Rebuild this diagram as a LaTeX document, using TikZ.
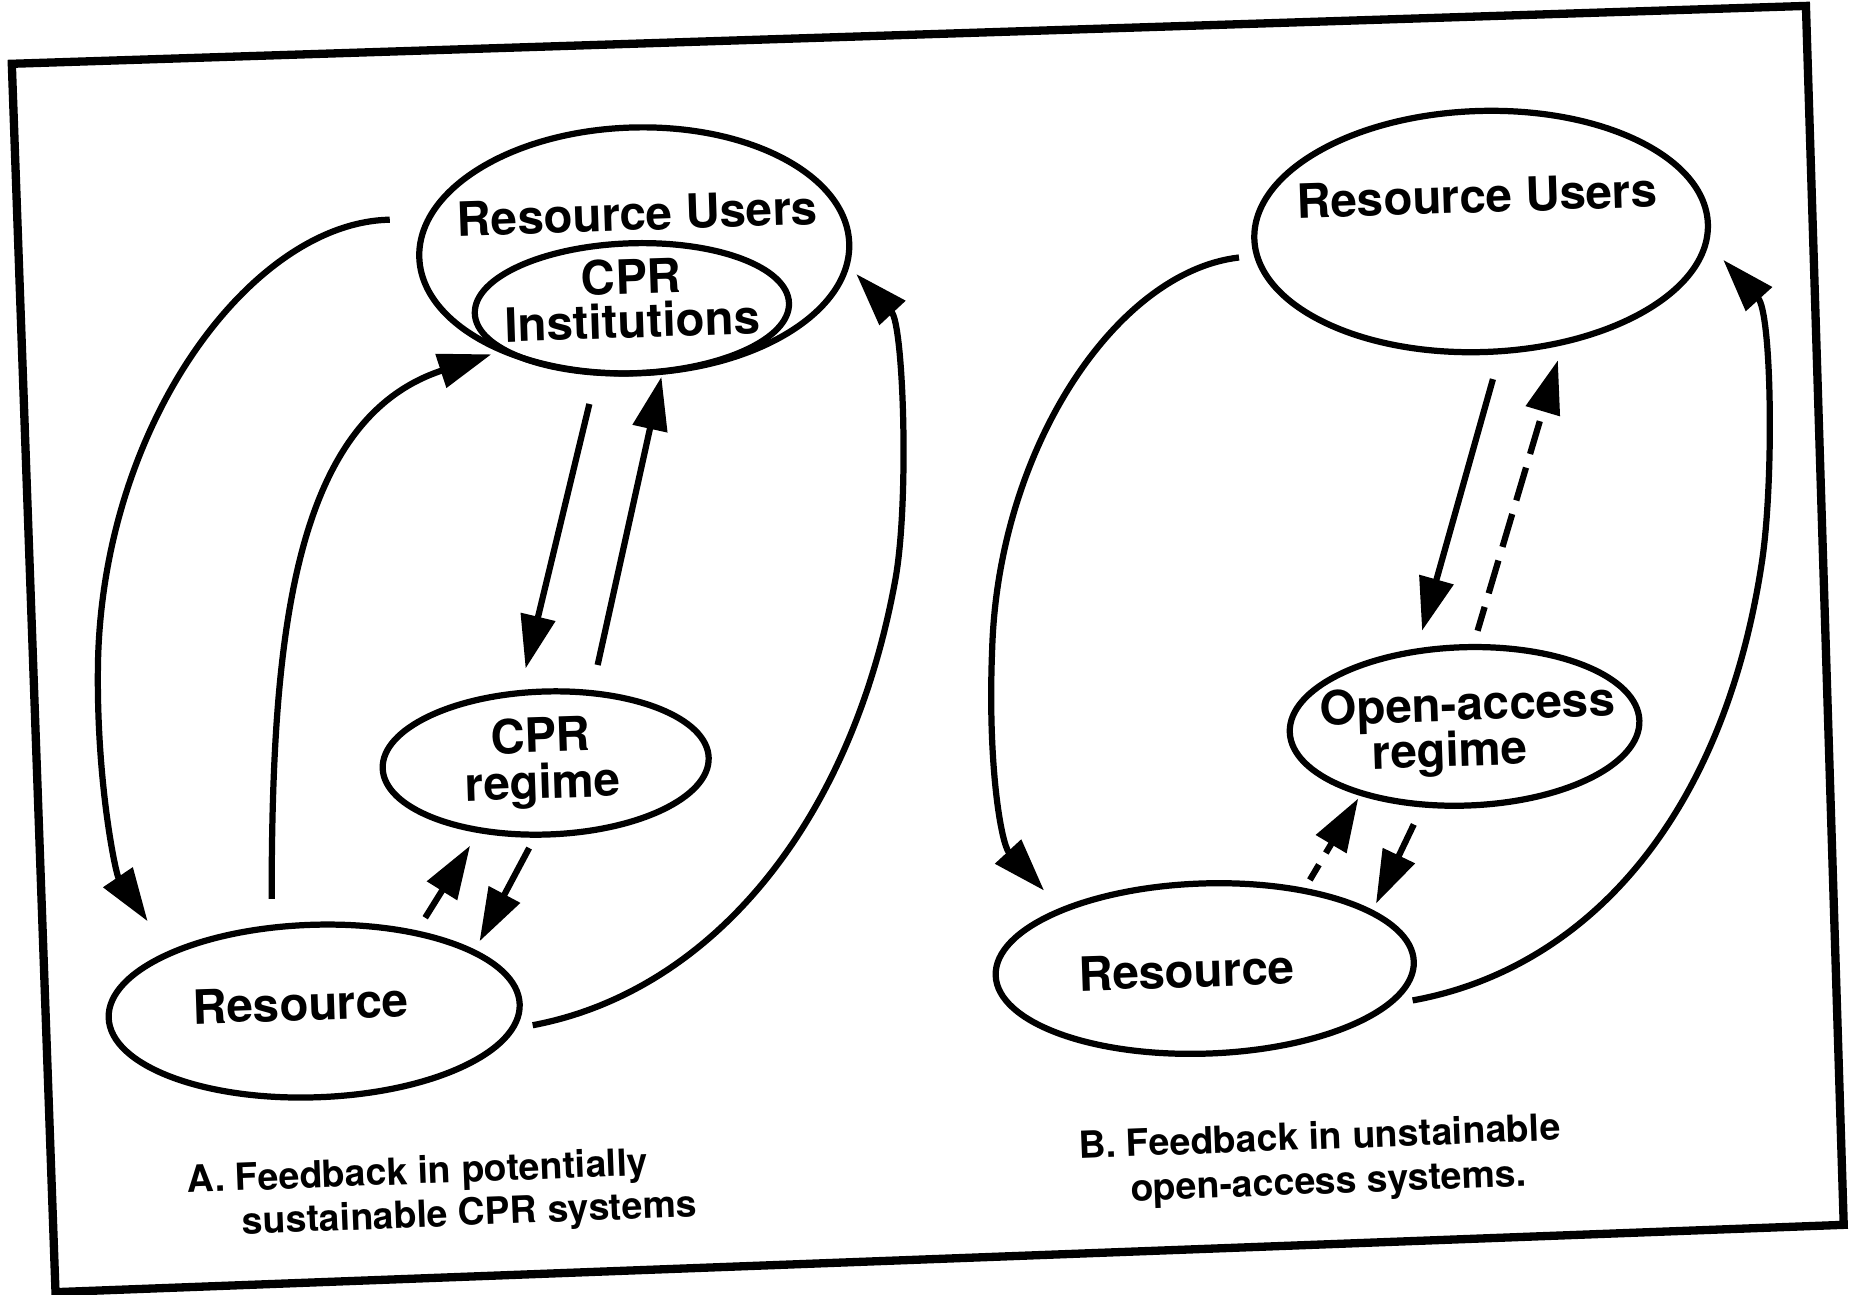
\documentclass[tikz,border=0pt]{standalone}
\usepackage{fontspec}
\setmainfont{TeX Gyre Heros}
\usetikzlibrary{arrows.meta,shapes.geometric}
\begin{document}
\begin{tikzpicture}[x=0.01cm,y=-0.01cm,line width=1.5pt,
  oval/.style={draw,ellipse,rotate=1.9,inner sep=0pt},
  lbl/.style={rotate=1.9,anchor=base,inner sep=0pt,font=\fontsize{11.4}{13}\selectfont\bfseries},
  captxt/.style={rotate=2.2,anchor=base west,inner sep=0pt,font=\fontsize{9}{11}\selectfont\bfseries},
  arr/.style={-{Triangle[length=4.5mm,width=2.9mm]}},
  dsh/.style={dash pattern=on 2.9mm off 1.2mm,dash phase=0.8mm},
  dshshort/.style={dash pattern=on 1.5mm off 1.15mm}
]
\useasboundingbox (0,0) rectangle (1568,1096);
% frame
\draw[line width=2pt] (10,54) -- (1529,5) -- (1561,1037) -- (47,1094) -- cycle;

% ---------- A: left diagram ----------
\node[oval,minimum width=3.64cm,minimum height=2.08cm] (ruL) at (537,212) {};
\node[oval,minimum width=2.66cm,minimum height=1.10cm] (instL) at (535,261) {};
\node[oval,minimum width=2.76cm,minimum height=1.21cm] (regL) at (462,646) {};
\node[oval,minimum width=3.48cm,minimum height=1.46cm] (resL) at (266,856) {};

\node[lbl] (tRUL) at (540,195) {Resource Users};
\node[lbl] (tCPRa) at (535,249) {CPR};
\node[lbl] (tInst) at (536,286) {Institutions};
\node[lbl] (tCPRb) at (458,637) {CPR};
\node[lbl] (tRegL) at (460,676) {regime};
\node[lbl] (tResL) at (255,864) {Resource};

\coordinate (a1s) at (330,186); \coordinate (a1e) at (125,780);
\coordinate (a2s) at (230,761); \coordinate (a2e) at (416,300);
\coordinate (a3s) at (451,868); \coordinate (a3e) at (725,232);
\coordinate (a4s) at (499,342); \coordinate (a4e) at (445,566);
\coordinate (a5s) at (506,563); \coordinate (a5e) at (560,319);
\coordinate (a6s) at (360,777); \coordinate (a6e) at (398,716);
\coordinate (a7s) at (448,718); \coordinate (a7e) at (406,797);

\draw[arr] (a1s) .. controls (215,188) and (88,355) .. (83,559)
                 .. controls (81,660) and (98,740) .. (a1e);
\draw[arr] (a2s) .. controls (230,540) and (248,355) .. (a2e);
\draw[arr] (a3s) .. controls (600,840) and (720,700) .. (758,491)
                 .. controls (770,425) and (765,275) .. (a3e);
\draw[arr] (a4s) -- (a4e);
\draw[arr] (a5s) -- (a5e);
\draw[arr] (a6s) -- (a6e);
\draw[arr] (a7s) -- (a7e);

\node[captxt] (capA1) at (156,1010) {A. Feedback in potentially};
\node[captxt] (capA2) at (203,1045) {sustainable CPR systems};

% ---------- B: right diagram ----------
\node[oval,minimum width=3.84cm,minimum height=2.04cm] (ruR) at (1254,196) {};
\node[oval,minimum width=2.96cm,minimum height=1.34cm] (regR) at (1240,615) {};
\node[oval,minimum width=3.54cm,minimum height=1.44cm] (resR) at (1020,820) {};

\node[lbl] (tRUR) at (1251,180) {Resource Users};
\node[lbl] (tOA) at (1243,610) {Open-access};
\node[lbl] (tRegR) at (1228,649) {regime};
\node[lbl] (tResR) at (1005,836) {Resource};

\coordinate (b1s) at (1049,218); \coordinate (b1e) at (884,754);
\coordinate (b2s) at (1196,847); \coordinate (b2e) at (1459,220);
\coordinate (b3s) at (1264,321); \coordinate (b3e) at (1204,534);
\coordinate (b4s) at (1251,534); \coordinate (b4e) at (1319,305);
\coordinate (b5s) at (1109,745); \coordinate (b5e) at (1150,676);
\coordinate (b6s) at (1197,698); \coordinate (b6e) at (1165,765);

\draw[arr] (b1s) .. controls (945,230) and (845,380) .. (840,550)
                 .. controls (836,650) and (848,715) .. (b1e);
\draw[arr] (b2s) .. controls (1345,820) and (1460,690) .. (1492,474)
                 .. controls (1502,405) and (1500,265) .. (b2e);
\draw[arr] (b3s) -- (b3e);
\draw[arr,dsh] (b4s) -- (b4e);
\draw[arr,dshshort] (b5s) -- (b5e);
\draw[arr] (b6s) -- (b6e);

\node[captxt] (capB1) at (911,981) {B. Feedback in unstainable};
\node[captxt] (capB2) at (955,1017) {open-access systems.};
\end{tikzpicture}
\end{document}
